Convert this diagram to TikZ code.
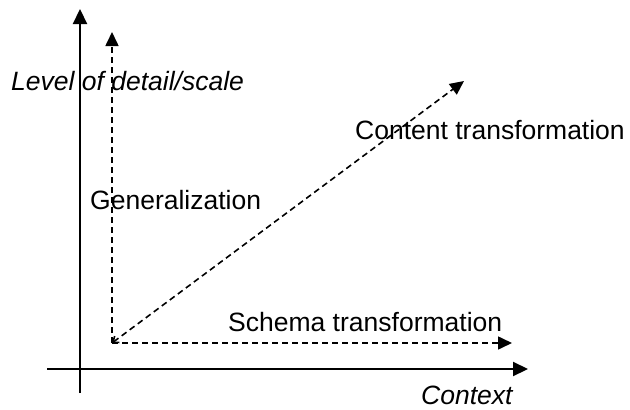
\documentclass[tikz,border=0pt]{standalone}
\usepackage{fontspec}
\setmainfont{Liberation Sans}
\usetikzlibrary{arrows.meta}
\begin{document}
\begin{tikzpicture}[x=1pt,y=-1pt,
  axis/.style={line width=2.2pt,-{Triangle[length=15pt,width=14pt]}},
  dashes/.style={line width=1.6pt,dash pattern=on 6pt off 4pt},
  dline/.style={dashes,-{Triangle[length=14pt,width=13pt]}},
  lbl/.style={font=\fontsize{26.5}{30}\selectfont,inner sep=0pt,anchor=base west},
  ilbl/.style={lbl,font=\fontsize{26.5}{30}\selectfont\itshape}]
\useasboundingbox (0,0) rectangle (630,410);
% axes
\coordinate (ybot) at (80,393);
\coordinate (ytop) at (80,9);
\coordinate (xleft) at (47,369);
\coordinate (xright) at (528,369);
\draw[axis] (ybot) -- (ytop);
\draw[axis] (xleft) -- (xright);
% dashed arrows
\coordinate (o) at (112,343);
\coordinate (gtop) at (112,32);
\coordinate (sright) at (512,343);
\coordinate (ctip) at (464,81);
\draw[dline] (o) -- (gtop);
\draw[dline] (o) -- (sright);
\draw[dashes,{Straight Barb[length=5pt,width=8pt]}-{Triangle[length=14pt,width=13pt]}] (o) -- (ctip);
% labels
\node[ilbl] (lev) at (11,90) {Level of detail/scale};
\node[lbl] (cont) at (355,139) {Content transformation};
\node[lbl] (gen) at (90,209) {Generalization};
\node[lbl] (sch) at (228,331) {Schema transformation};
\node[ilbl] (ctx) at (421,404) {Context};
\end{tikzpicture}
\end{document}
